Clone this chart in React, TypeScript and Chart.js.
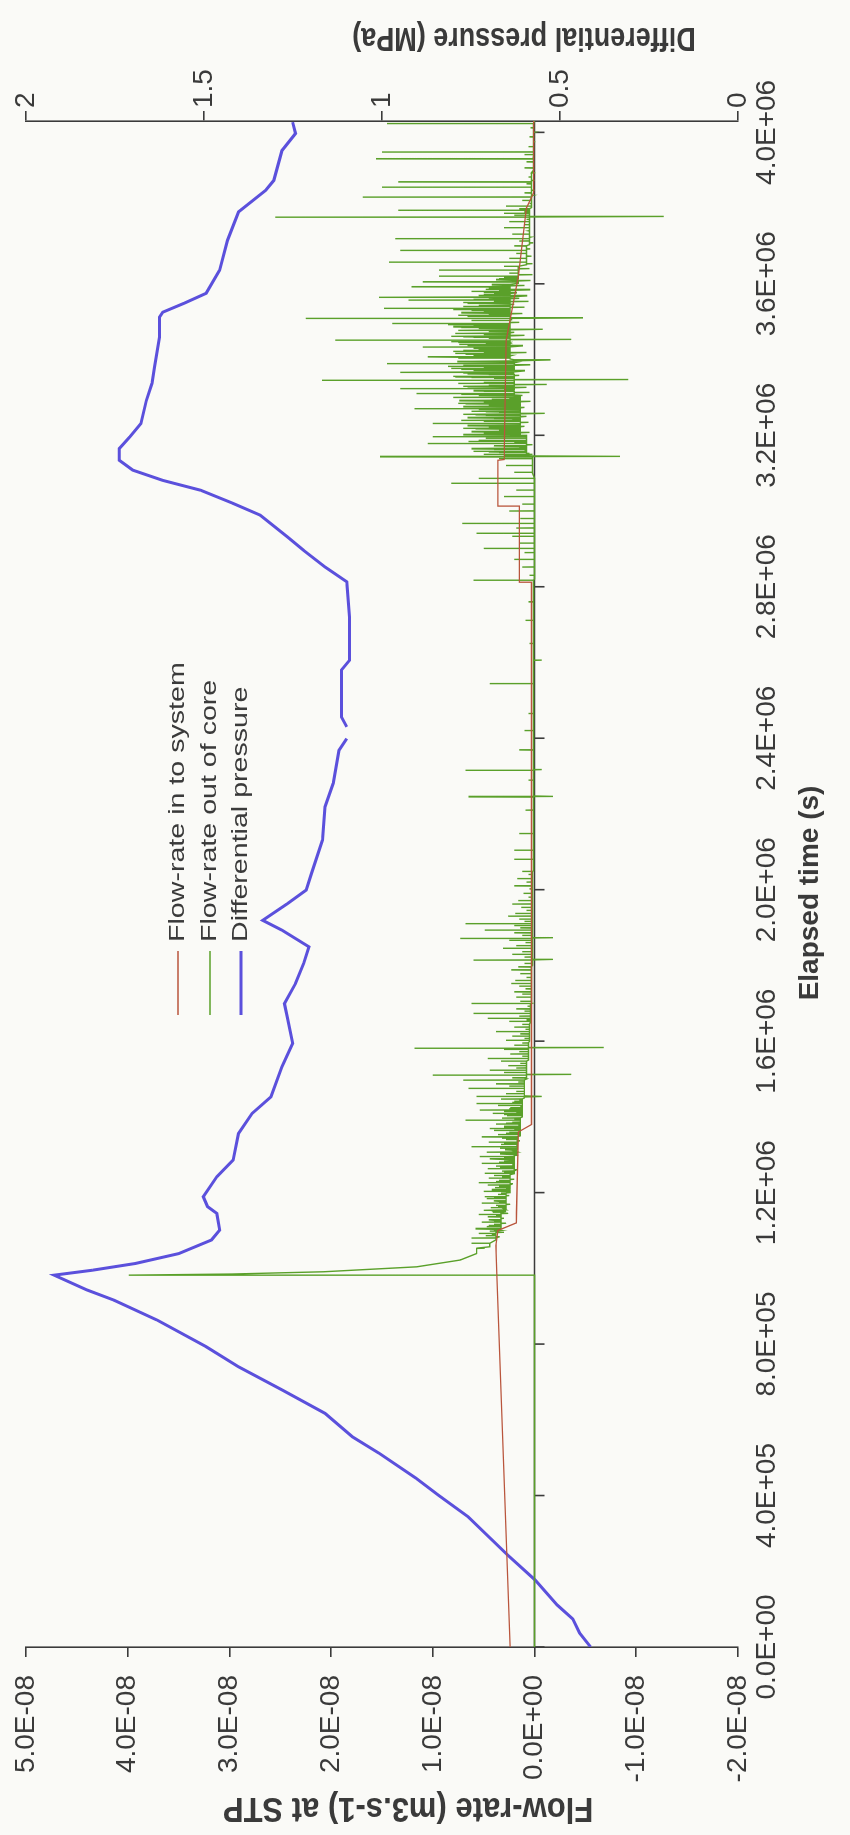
import React, { useEffect, useRef } from 'react';
import { Chart, registerables } from 'chart.js';

Chart.register(...registerables);

// ---------- tick labels ----------
const timeTickValues = [0, 0.4, 0.8, 1.2, 1.6, 2.0, 2.4, 2.8, 3.2, 3.6, 4.0]; // units of 1E+06 s
const timeTickLabels = ['0.0E+00', '4.0E+05', '8.0E+05', '1.2E+06', '1.6E+06', '2.0E+06', '2.4E+06', '2.8E+06', '3.2E+06', '3.6E+06', '4.0E+06'];
const flowTickValues = [-2, -1, 0, 1, 2, 3, 4, 5]; // units of 1E-08 m3/s
const flowTickLabels = ['-2.0E-08', '-1.0E-08', '0.0E+00', '1.0E-08', '2.0E-08', '3.0E-08', '4.0E-08', '5.0E-08'];
const pressureTickValues = [0, 0.5, 1, 1.5, 2];
const pressureTickLabels = ['0', '0.5', '1', '1.5', '2'];
const seriesNames = ['Flow-rate in to system', 'Flow-rate out of core', 'Differential pressure'];
const axisTitles = ['Elapsed time (s)', 'Flow-rate (m3.s-1) at STP', 'Differential pressure (MPa)'];

// ---------- series: [time (1E+06 s), value] ----------
const pressurePts: (number | null)[][] = [
  [0, 0.414], [0.037, 0.445], [0.074, 0.464], [0.111, 0.508], [0.177, 0.57], [0.242, 0.646],
  [0.344, 0.758], [0.4, 0.84], [0.446, 0.905], [0.511, 1.007], [0.555, 1.083], [0.617, 1.16],
  [0.679, 1.281], [0.74, 1.403], [0.793, 1.494], [0.863, 1.631], [0.916, 1.753], [0.943, 1.829],
  [0.982, 1.921], [0.995, 1.814], [1.013, 1.692], [1.039, 1.571], [1.075, 1.479], [1.101, 1.456],
  [1.145, 1.464], [1.163, 1.49], [1.189, 1.502], [1.242, 1.464], [1.286, 1.418], [1.356, 1.403],
  [1.409, 1.365], [1.453, 1.312], [1.532, 1.281], [1.594, 1.251], [1.664, 1.266], [1.699, 1.274],
  [1.752, 1.243], [1.805, 1.22], [1.849, 1.205], [1.893, 1.281], [1.919, 1.335], [1.963, 1.266],
  [1.999, 1.213], [2.043, 1.198], [2.131, 1.167], [2.219, 1.16], [2.281, 1.137], [2.368, 1.121],
  [2.399, 1.099], [2.41, null], [2.43, 1.099], [2.456, 1.114], [2.58, 1.114], [2.606, 1.091],
  [2.72, 1.091], [2.813, 1.099], [2.852, 1.16], [2.896, 1.22], [2.932, 1.266], [2.989, 1.342],
  [3.02, 1.418], [3.055, 1.51], [3.081, 1.616], [3.108, 1.7], [3.134, 1.738], [3.165, 1.738],
  [3.196, 1.708], [3.231, 1.677], [3.292, 1.662], [3.337, 1.646], [3.38, 1.639], [3.459, 1.625],
  [3.512, 1.625], [3.525, 1.616], [3.549, 1.555], [3.575, 1.494], [3.636, 1.456], [3.715, 1.434],
  [3.79, 1.403], [3.847, 1.327], [3.873, 1.304], [3.952, 1.281], [3.997, 1.243], [4.027, 1.251],
];

const inflowPts = [
  [0, 0.24], [0.98, 0.37], [1.06, 0.38], [1.1, 0.36], [1.12, 0.18], [1.36, 0.16], [1.38, 0.03],
  [2.81, 0.03], [2.812, 0.15], [3.011, 0.15], [3.013, 0.36], [3.134, 0.36], [3.136, 0.3],
  [3.45, 0.28], [3.62, 0.16], [3.8, 0.08], [3.84, 0.01], [4.03, 0.01],
];

// flow out of core: slow baseline path + individual spikes
const outflowBaseline = [
  [0, 0], [0.98, 0], [0.982, 3.99], [0.985, 2.97], [0.991, 2.07], [1.004, 1.16], [1.022, 0.73],
  [1.039, 0.57], [1.057, 0.44], [1.075, 0.38], [1.1, 0.33], [1.15, 0.28], [1.2, 0.24], [1.25, 0.2],
  [1.3, 0.17], [1.35, 0.14], [1.4, 0.12], [1.45, 0.1], [1.5, 0.08], [1.55, 0.06], [1.6, 0.05],
  [1.65, 0.04], [1.7, 0.03], [1.8, 0.02], [2.05, 0.01], [2.82, 0.0], [3.1, 0.02], [3.15, 0.08],
  [3.2005, 0.14], [3.3035, 0.2], [3.4015, 0.24], [3.5005, 0.24], [3.6015, 0.16], [3.6505, 0.08],
  [3.7035, 0.05], [3.8015, 0.03], [3.9005, 0.01], [4.03, 0.0],
];
const outflowSpikesEarly = [
  [1.053, 0.49], [1.066, 0.62], [1.08, 0.62], [1.086, 0.48], [1.092, 0.55], [1.098, 0.44], [1.104, 0.58],
  [1.11, 0.47], [1.116, 0.4], [1.122, 0.52], [1.128, 0.45], [1.136, 0.46], [1.142, 0.55], [1.148, 0.41],
  [1.154, 0.5], [1.16, 0.43], [1.166, 0.38], [1.172, 0.52], [1.178, 0.4], [1.184, 0.47], [1.189, 0.49],
  [1.195, 0.36], [1.203, 0.5], [1.207, 0.42], [1.213, 0.39], [1.22, 0.46], [1.226, 0.55], [1.232, 0.35],
  [1.238, 0.45], [1.245, 0.4], [1.251, 0.49], [1.257, 0.32], [1.263, 0.46], [1.27, 0.38], [1.277, 0.52],
  [1.283, 0.3], [1.289, 0.44], [1.295, 0.54], [1.302, 0.34], [1.307, 0.47], [1.313, 0.29], [1.321, 0.62],
  [1.327, 0.33], [1.333, 0.45], [1.34, 0.28], [1.347, 0.52], [1.353, 0.36], [1.359, 0.25], [1.364, 0.4],
  [1.369, 0.44], [1.375, 0.3], [1.381, 0.38], [1.386, 0.22], [1.391, 0.68], [1.397, 0.32], [1.403, 0.27],
  [1.409, 0.41], [1.414, 0.3], [1.418, 0.54], [1.424, 0.24], [1.43, 0.36], [1.435, 0.57], [1.441, 0.2],
  [1.447, 0.33], [1.453, 0.57], [1.455, -0.07], [1.461, 0.28], [1.467, 0.18], [1.475, 0.65], [1.481, 0.25],
  [1.487, 0.38], [1.492, 0.16], [1.497, 0.7], [1.503, 0.22], [1.51, 1.0], [1.512, -0.36], [1.517, 0.3],
  [1.523, 0.44], [1.529, 0.18], [1.535, 0.26], [1.541, 0.14], [1.547, 0.33], [1.554, 0.46], [1.56, 0.12],
  [1.566, 0.24], [1.572, 0.15], [1.578, 0.3], [1.581, 1.18], [1.583, -0.68], [1.589, 0.2], [1.595, 0.12],
  [1.602, 0.28], [1.607, 0.1], [1.613, 0.22], [1.619, 0.14], [1.625, 0.38], [1.631, 0.09], [1.637, 0.2],
  [1.644, 0.12], [1.652, 0.25], [1.656, 0.08], [1.66, 0.46], [1.666, 0.15], [1.673, 0.6], [1.679, 0.1],
  [1.685, 0.18], [1.692, 0.07], [1.699, 0.62], [1.705, 0.14],
];
const outflowSpikesEarlyFill = [
  [1.083, 0.35], [1.089, 0.42], [1.095, 0.3], [1.1015, 0.4], [1.107, 0.33], [1.113, 0.45], [1.119, 0.28],
  [1.125, 0.4], [1.132, 0.3], [1.139, 0.38], [1.145, 0.26], [1.1515, 0.42], [1.157, 0.3], [1.163, 0.36],
  [1.169, 0.24], [1.175, 0.35], [1.181, 0.28], [1.1865, 0.4], [1.192, 0.25], [1.1985, 0.33], [1.21, 0.28],
  [1.2165, 0.35], [1.223, 0.22], [1.229, 0.38], [1.235, 0.2], [1.2415, 0.32], [1.248, 0.24], [1.254, 0.3],
  [1.26, 0.18], [1.2665, 0.34], [1.2735, 0.22], [1.28, 0.35], [1.286, 0.2], [1.292, 0.3], [1.2985, 0.16],
  [1.3045, 0.28], [1.31, 0.2], [1.317, 0.34], [1.324, 0.18], [1.33, 0.3], [1.3365, 0.15], [1.3435, 0.32],
  [1.3565, 0.28], [1.3665, 0.2], [1.372, 0.3], [1.378, 0.16], [1.3835, 0.28], [1.394, 0.2], [1.406, 0.3],
  [1.4115, 0.18], [1.421, 0.25], [1.427, 0.14], [1.438, 0.22], [1.444, 0.15],
];
const outflowSpikesMid = [
  [1.716, 0.18], [1.724, 0.12], [1.73, 0.2], [1.738, 0.09], [1.745, 0.15], [1.752, 0.23], [1.76, 0.19],
  [1.768, 0.08], [1.778, 0.14], [1.788, 0.23], [1.796, 0.16], [1.805, 0.1], [1.814, 0.6], [1.816, -0.18],
  [1.822, 0.1], [1.829, 0.22], [1.836, 0.12], [1.845, 0.31], [1.852, 0.18], [1.86, 0.09], [1.866, 0.25],
  [1.871, 0.73], [1.873, -0.18], [1.879, 0.12], [1.886, 0.2], [1.893, 0.49], [1.899, 0.14], [1.905, 0.2],
  [1.91, 0.68], [1.916, 0.1], [1.922, 0.15], [1.93, 0.26], [1.937, 0.19], [1.945, 0.08], [1.953, 0.13],
  [1.962, 0.22], [1.971, 0.16], [1.98, 0.06], [1.99, 0.11], [2.002, 0.05], [2.01, 0.2], [2.02, 0.08],
  [2.029, 0.17], [2.04, 0.06], [2.048, 0.12], [2.08, 0.2], [2.104, 0.2], [2.148, 0.15], [2.21, 0.09],
  [2.245, 0.65], [2.247, -0.18], [2.289, 0.06], [2.315, 0.68], [2.317, -0.07], [2.369, 0.15], [2.42, 0.1],
  [2.465, 0.06], [2.544, 0.44], [2.606, -0.07], [2.65, 0.05], [2.711, 0.09], [2.76, 0.06], [2.817, 0.6],
];
const outflowSpikesLate = [
  [2.83, 0.05], [2.852, 0.12], [2.872, 0.2], [2.89, 0.1], [2.901, 0.5], [2.915, 0.15], [2.933, 0.22],
  [2.941, 0.57], [2.955, 0.18], [2.967, 0.71], [2.98, 0.14], [3.0, 0.25], [3.018, 0.12], [3.038, 0.3],
  [3.055, 0.18], [3.073, 0.82], [3.086, 0.55], [3.102, 0.2], [3.12, 0.28], [3.138, 0.35], [3.143, 1.52],
  [3.145, -0.84],
];
const outflowSpikesDense = [
  [3.148, 0.3], [3.152, 0.05], [3.156, 0.45], [3.16, 0.1], [3.164, 0.62], [3.168, 0.15], [3.172, 0.4],
  [3.175, 0.02], [3.178, 1.05], [3.181, 0.2], [3.185, 0.55], [3.189, 0.08], [3.192, 0.48], [3.196, 1.0],
  [3.199, 0.12], [3.203, 0.6], [3.207, 0.05], [3.211, 0.42], [3.215, 0.18], [3.219, 0.7], [3.223, 0.1],
  [3.227, 0.52], [3.231, 1.0], [3.234, 0.06], [3.238, 0.45], [3.242, 0.22], [3.246, 0.66], [3.25, 0.08],
  [3.254, 0.58], [3.258, -0.1], [3.262, 0.48], [3.266, 0.15], [3.27, 1.18], [3.273, 0.1], [3.277, 0.62],
  [3.281, 0.2], [3.285, 0.75], [3.289, 0.04], [3.293, 0.55], [3.297, 0.25], [3.301, 0.8], [3.306, 0.12],
  [3.31, 1.16], [3.313, 0.05], [3.317, 0.6], [3.32, 0.3], [3.323, 1.32], [3.326, 0.08], [3.33, 0.7],
  [3.334, -0.12], [3.338, 0.58], [3.341, 0.2], [3.345, 2.09], [3.347, -0.92], [3.35, 0.4], [3.354, 0.78],
  [3.358, 0.15], [3.362, 0.66], [3.367, 1.32], [3.37, 0.1], [3.374, 0.72], [3.378, 0.28], [3.382, 0.85],
  [3.386, 0.05], [3.389, 1.45], [3.392, 0.18], [3.396, 0.62], [3.399, -0.15], [3.404, 0.75], [3.407, 1.05],
  [3.41, 0.22], [3.414, 0.68], [3.418, 0.08], [3.422, 0.8], [3.426, 0.3], [3.43, 0.6], [3.433, 1.1],
  [3.436, 0.12], [3.44, 0.74], [3.444, 0.25], [3.447, 0.82], [3.451, 1.96], [3.453, -0.36], [3.456, 0.45],
  [3.46, 0.7], [3.464, 0.1], [3.468, 0.78], [3.472, 0.2], [3.476, 0.66], [3.48, -0.08], [3.484, 0.72],
  [3.488, 0.3], [3.492, 0.85], [3.495, 1.4], [3.498, 0.15], [3.503, 0.62], [3.505, 0.22], [3.508, 2.25],
  [3.51, -0.47], [3.513, 0.5], [3.517, 0.75], [3.521, 0.12], [3.525, 0.64], [3.529, 0.28], [3.532, 0.8],
  [3.535, 1.48], [3.538, 0.1], [3.542, 0.55], [3.546, 0.2], [3.55, 0.7], [3.554, 0.06], [3.557, 1.24],
  [3.561, 0.15], [3.565, 1.53], [3.568, 0.08], [3.572, 0.5], [3.576, 0.18], [3.58, 0.62], [3.584, 0.05],
  [3.588, 0.45], [3.592, 1.21], [3.595, 0.1], [3.599, 0.4], [3.605, 1.1], [3.608, 0.04], [3.613, 0.35],
  [3.62, 0.94], [3.624, 0.02],
];
const outflowSpikesDenseFill = [
  [3.15, 0.5], [3.154, 0.35], [3.158, 0.6], [3.162, 0.4], [3.166, 0.55], [3.17, 0.3], [3.183, 0.65],
  [3.187, 0.45], [3.201, 0.7], [3.205, 0.5], [3.209, 0.62], [3.213, 0.35], [3.217, 0.58], [3.221, 0.45],
  [3.225, 0.66], [3.236, 0.5], [3.24, 0.72], [3.244, 0.4], [3.248, 0.6], [3.252, 0.48], [3.256, 0.7],
  [3.26, 0.35], [3.264, 0.62], [3.268, 0.55], [3.275, 0.7], [3.279, 0.45], [3.283, 0.68], [3.287, 0.5],
  [3.291, 0.74], [3.295, 0.42], [3.299, 0.65], [3.3045, 0.55], [3.308, 0.72], [3.3155, 0.5], [3.328, 0.66],
  [3.332, 0.45], [3.336, 0.75], [3.3395, 0.5], [3.352, 0.62], [3.356, 0.8], [3.36, 0.45], [3.3645, 0.7],
  [3.372, 0.6], [3.376, 0.82], [3.38, 0.5], [3.384, 0.7], [3.394, 0.76], [3.412, 0.6], [3.416, 0.78],
  [3.42, 0.5], [3.424, 0.7], [3.428, 0.55], [3.438, 0.66], [3.442, 0.48], [3.4455, 0.75], [3.458, 0.6],
  [3.462, 0.82], [3.466, 0.5], [3.47, 0.7], [3.474, 0.45], [3.478, 0.75], [3.482, 0.55], [3.486, 0.8],
  [3.49, 0.6], [3.515, 0.66], [3.519, 0.45], [3.523, 0.72], [3.527, 0.5], [3.5305, 0.62], [3.54, 0.7],
  [3.544, 0.48], [3.548, 0.66], [3.552, 0.4], [3.559, 0.6], [3.563, 0.45], [3.57, 0.55], [3.574, 0.4],
  [3.578, 0.5], [3.582, 0.35], [3.586, 0.48], [3.597, 0.42], [3.6105, 0.38], [3.6165, 0.3],
];
const outflowSpikesEnd = [
  [3.628, 0.25], [3.636, 0.94], [3.64, 0.05], [3.646, 0.3], [3.653, 0.02], [3.657, 1.43], [3.661, 0.08],
  [3.667, 0.25], [3.673, 0.03], [3.68, 0.18], [3.688, 1.32], [3.692, 0.05], [3.7, 0.2], [3.708, 0.02],
  [3.713, 0.15], [3.719, 1.37], [3.723, 0.04], [3.731, 0.22], [3.74, 0.06], [3.748, 0.3], [3.756, 0.1],
  [3.764, 0.25], [3.77, 0.08], [3.776, 2.55], [3.778, -1.27], [3.781, 0.2], [3.786, 0.3], [3.79, 0.1],
  [3.794, 1.34], [3.798, 0.15], [3.805, 0.28], [3.812, 0.05], [3.82, 0.12], [3.829, 1.69], [3.833, 0.02],
  [3.84, 0.1], [3.847, 0.0], [3.855, 1.5], [3.858, 0.03], [3.864, 0.08], [3.869, 1.34], [3.873, 0.0],
  [3.882, 0.06], [3.893, 0.0], [3.906, 0.1], [3.915, 0.01], [3.922, 0.08], [3.93, 1.56], [3.934, 0.02],
  [3.941, 0.1], [3.948, 1.5], [3.952, 0.01], [3.962, 0.06], [3.975, 0.0], [3.988, 0.05], [4.0, 0.0],
  [4.012, 0.04], [4.023, 1.45],
];

// ---------- styling ----------
const CANVAS_W = 1835;
const CANVAS_H = 850;
const FONT = '"Liberation Sans", Arial, Helvetica, sans-serif';
const AXIS = '#3b3b3b';
const TEXT = '#3a3a3a';
const COLORS = ['#b9553c', '#5aa02a', '#5b50dc'];
const WIDTHS = [1.3, 1.4, 3];

const toXY = (pts: (number | null)[][]) => pts.map((p) => ({ x: p[0] as number, y: p[1] }));

// each spike is drawn as a near-horizontal excursion from the current baseline level
function buildOutflow() {
  const events: { t: number; f: number; spike: boolean }[] = [];
  outflowBaseline.forEach(([t, f]) => events.push({ t, f, spike: false }));
  [
    ...outflowSpikesEarly, ...outflowSpikesEarlyFill, ...outflowSpikesMid, ...outflowSpikesLate,
    ...outflowSpikesDense, ...outflowSpikesDenseFill, ...outflowSpikesEnd,
  ].forEach(([t, f]) => events.push({ t, f, spike: true }));
  events.sort((a, b) => a.t - b.t);
  const out: { x: number; y: number }[] = [];
  let base = 0;
  events.forEach((e) => {
    if (!e.spike) {
      base = e.f;
      out.push({ x: e.t, y: e.f });
    } else {
      out.push({ x: e.t - 0.0005, y: base }, { x: e.t, y: e.f }, { x: e.t + 0.0005, y: base });
    }
  });
  return out;
}

function drawText(ctx: CanvasRenderingContext2D, text: string, u: number, v: number, font: string, align: CanvasTextAlign, stretch = 1, rotate = false) {
  ctx.save();
  ctx.translate(u, v);
  ctx.scale(stretch, 1);
  if (rotate) ctx.rotate(-Math.PI / 2);
  ctx.font = font;
  ctx.textAlign = align;
  ctx.textBaseline = 'middle';
  ctx.fillStyle = TEXT;
  ctx.fillText(text, 0, 0);
  ctx.restore();
}

const decorPlugin = {
  id: 'decor',
  beforeDatasetsDraw(chart: any) {
    const { ctx, chartArea: ca, scales } = chart;
    const y0 = scales.y.getPixelForValue(0);
    ctx.save();
    ctx.strokeStyle = AXIS;
    ctx.lineWidth = 1.6;
    ctx.beginPath();
    ctx.moveTo(ca.left, y0);
    ctx.lineTo(ca.right, y0);
    timeTickValues.forEach((v) => {
      const px = scales.x.getPixelForValue(v);
      ctx.moveTo(px, y0);
      ctx.lineTo(px, y0 + 10);
    });
    ctx.stroke();
    ctx.restore();
  },
  afterDraw(chart: any) {
    const { ctx, scales } = chart;
    const tickFont = `28px ${FONT}`;
    timeTickValues.forEach((v, i) => drawText(ctx, timeTickLabels[i], scales.x.getPixelForValue(v), 767, tickFont, 'center'));
    flowTickValues.forEach((v, i) => drawText(ctx, flowTickLabels[i], 160, scales.y.getPixelForValue(v), tickFont, 'right'));
    pressureTickValues.forEach((v, i) => drawText(ctx, pressureTickLabels[i], 1727, scales.y2.getPixelForValue(v), tickFont, 'left'));

    // axis titles
    drawText(ctx, axisTitles[0], 942, 810, `bold 28px ${FONT}`, 'center');
    drawText(ctx, axisTitles[1], 27, 408, `bold 31px ${FONT}`, 'center', 1.12, true);
    drawText(ctx, axisTitles[2], 1798, 524, `bold 27px ${FONT}`, 'center', 1.25, true);

    // legend
    const legendRows = [178, 210, 241];
    seriesNames.forEach((name, i) => {
      const ry = legendRows[i];
      ctx.save();
      ctx.strokeStyle = COLORS[i];
      ctx.lineWidth = i === 2 ? 3 : 1.3;
      ctx.beginPath();
      ctx.moveTo(820, ry);
      ctx.lineTo(884, ry);
      ctx.stroke();
      ctx.restore();
      drawText(ctx, name, 893, ry, `22px ${FONT}`, 'left', 1.3);
    });
  },
};

export default function App() {
  const ref = useRef<HTMLCanvasElement | null>(null);
  useEffect(() => {
    if (!ref.current) return;
    const axisGrid = { display: true, drawOnChartArea: false, drawTicks: true, tickLength: 10, color: AXIS, lineWidth: 1.6 };
    const chart = new Chart(ref.current, {
      type: 'line',
      data: {
        datasets: [
          { label: seriesNames[0], data: toXY(inflowPts), borderColor: COLORS[0], borderWidth: WIDTHS[0], yAxisID: 'y', pointRadius: 0, tension: 0 },
          { label: seriesNames[1], data: buildOutflow(), borderColor: COLORS[1], borderWidth: WIDTHS[1], yAxisID: 'y', pointRadius: 0, tension: 0 },
          { label: seriesNames[2], data: toXY(pressurePts), borderColor: COLORS[2], borderWidth: WIDTHS[2], yAxisID: 'y2', pointRadius: 0, tension: 0, spanGaps: false },
        ],
      } as any,
      options: {
        animation: false,
        responsive: false,
        devicePixelRatio: 1,
        layout: { padding: { top: 26, left: 0, right: 0, bottom: 0 } },
        plugins: { legend: { display: false }, tooltip: { enabled: false } },
        scales: {
          x: {
            type: 'linear', position: 'bottom', min: 0, max: 4.03,
            ticks: { display: false, stepSize: 0.4 },
            grid: { display: false }, border: { display: false },
            afterFit: (s: any) => { s.height = 112; },
          },
          y: {
            type: 'linear', position: 'left', min: -2, max: 5,
            ticks: { display: false, stepSize: 1 },
            grid: axisGrid, border: { display: true, color: AXIS, width: 1.6 },
            afterFit: (s: any) => { s.width = 188; },
          },
          y2: {
            type: 'linear', position: 'right', min: 0, max: 2,
            ticks: { display: false, stepSize: 0.5 },
            grid: axisGrid, border: { display: true, color: AXIS, width: 1.6 },
            afterFit: (s: any) => { s.width = 121; },
          },
        },
      } as any,
      plugins: [decorPlugin],
    });
    return () => chart.destroy();
  }, []);

  return (
    <div style={{ position: 'absolute', left: 0, top: 0, width: 850, height: 1835, overflow: 'hidden', background: '#fafaf7' }}>
      <div
        style={{
          position: 'absolute', left: 0, top: 0, width: CANVAS_W, height: CANVAS_H,
          transformOrigin: '0 0', transform: `translate(0px, ${CANVAS_W}px) rotate(-90deg)`,
        }}
      >
        <canvas ref={ref} width={CANVAS_W} height={CANVAS_H} style={{ width: CANVAS_W, height: CANVAS_H, display: 'block' }} />
      </div>
    </div>
  );
}
